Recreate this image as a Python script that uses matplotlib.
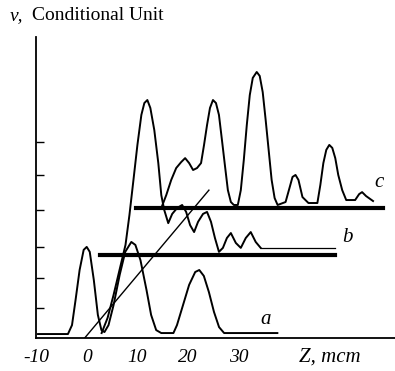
import matplotlib.pyplot as plt

# curve a (bottom), z in mcm, v in conditional units
z_a = [-9.6, -3.7, -2.9, -2.2, -1.4, -0.6, 0.0, 0.6, 1.4, 2.2, 2.9, 3.5, 4.3, 5.3, 6.5, 7.6, 8.8, 9.6,
       10.6, 11.8, 12.7, 13.7, 14.7, 17.1, 17.8, 19.0, 20.2, 21.4, 22.2, 23.1, 24.1, 25.1, 26.1, 27.1, 37.6]
v_a = [0.12, 0.12, 0.39, 1.15, 2.06, 2.67, 2.76, 2.61, 1.76, 0.70, 0.24, 0.18, 0.39, 1.00, 1.91, 2.61, 2.91, 2.82,
       2.36, 1.45, 0.70, 0.24, 0.15, 0.15, 0.39, 1.00, 1.61, 2.00, 2.06, 1.88, 1.39, 0.79, 0.33, 0.15, 0.15]

# curve b
z_b = [2.94, 4.12, 5.29, 6.47, 7.65, 8.43, 9.22, 10.0, 10.78, 11.37, 11.96, 12.55, 13.33, 14.12, 14.71,
       15.29, 16.08, 16.86, 17.84, 18.82, 19.61, 20.39, 21.18, 21.96, 22.94, 23.73, 24.51, 25.29, 26.08, 26.86,
       27.65, 28.43, 29.41, 30.39, 31.37, 32.35, 33.33, 34.31, 49.02]
v_b = [0.15, 0.61, 1.30, 2.06, 2.82, 3.73, 4.79, 5.85, 6.76, 7.12, 7.21, 6.97, 6.30, 5.30, 4.33,
       3.88, 3.48, 3.76, 3.94, 4.03, 3.82, 3.42, 3.21, 3.52, 3.76, 3.82, 3.52, 3.03, 2.61, 2.73,
       3.03, 3.18, 2.88, 2.73, 3.03, 3.21, 2.91, 2.73, 2.73]

# curve c
z_c = [14.71, 15.69, 16.67, 17.65, 18.63, 19.41, 20.20, 20.98, 21.76, 22.55, 23.14, 23.73, 24.31, 24.90, 25.49,
       26.08, 26.67, 27.25, 27.84, 28.43, 29.02, 29.80, 30.39, 30.98, 31.57, 32.16, 32.75, 33.53, 34.12, 34.71,
       35.29, 35.88, 36.47, 37.06, 37.65, 39.22, 40.00, 40.59, 41.18, 41.76, 42.55, 43.73, 45.49, 46.08, 46.67,
       47.25, 47.84, 48.43, 49.02, 49.61, 50.39, 51.18, 52.94, 53.73, 54.31, 55.10, 56.47]
v_c = [3.94, 4.33, 4.79, 5.15, 5.33, 5.45, 5.30, 5.09, 5.15, 5.30, 5.85, 6.45, 6.97, 7.21, 7.12,
       6.76, 6.00, 5.24, 4.48, 4.12, 4.03, 4.03, 4.48, 5.39, 6.45, 7.36, 7.88, 8.06, 7.94, 7.45,
       6.61, 5.70, 4.79, 4.24, 4.03, 4.12, 4.55, 4.88, 4.94, 4.79, 4.27, 4.09, 4.09, 4.64, 5.30,
       5.70, 5.85, 5.76, 5.45, 4.94, 4.48, 4.18, 4.18, 4.36, 4.42, 4.30, 4.15]

# base levels of b and c, and the slanted line
base_b = 2.52
base_b_z = [2.55, 49.0]
base_c = 3.94
base_c_z = [9.8, 58.4]
slant_z = [-0.4, 24.1]
slant_v = [0.0, 4.48]

xtick_vals = [-10, 0, 10, 20, 30]
xtick_labels = ["-10", "0", "10", "20", "30"]
ytick_vals = [0.91, 1.82, 2.76, 3.88, 4.94, 5.94]

plt.rcParams['font.family'] = ['Liberation Serif', 'DejaVu Serif']

fig = plt.figure(figsize=(3.95, 3.71), dpi=100)
ax = fig.add_axes([36 / 395, 33 / 371, 1 - 36 / 395, 301 / 371])

ax.plot(z_a, v_a, color='black', lw=1.4)
ax.plot(z_b[:-1], v_b[:-1], color='black', lw=1.4)
ax.plot(z_b[-2:], v_b[-2:], color='black', lw=0.9)
ax.plot(z_c, v_c, color='black', lw=1.4)
ax.plot(base_b_z, [base_b, base_b], color='black', lw=3)
ax.plot(base_c_z, [base_c, base_c], color='black', lw=3)
ax.plot(slant_z, slant_v, color='black', lw=1.0)

ax.text(35.3, 0.55, "a", fontsize=15, style='italic', ha='center', va='center')
ax.text(51.4, 3.06, "b", fontsize=15, style='italic', ha='center', va='center')
ax.text(57.6, 4.7, "c", fontsize=15, style='italic', ha='center', va='center')

ax.set_xlim(-9.6, 60.8)
ax.set_ylim(0, 9.12)

ax.spines['top'].set_visible(False)
ax.spines['right'].set_visible(False)
ax.spines['left'].set_linewidth(1.3)
ax.spines['bottom'].set_linewidth(1.3)

ax.set_xticks(xtick_vals)
ax.set_xticklabels(xtick_labels, fontsize=14, style='italic')
ax.tick_params(axis='x', which='major', length=0, pad=8)
ax.set_xticks([10, 20, 30], minor=True)
ax.tick_params(axis='x', which='minor', direction='in', length=5, width=1)
ax.set_yticks(ytick_vals)
ax.set_yticklabels([])
ax.tick_params(axis='y', direction='in', length=6, width=1)

fig.text(10 / 395, 1 - 16 / 371, "ν,", fontsize=14, style='italic', va='center')
fig.text(32 / 395, 1 - 16 / 371, "Conditional Unit", fontsize=14, va='center')
fig.text(330 / 395, 1 - 357 / 371, "Z, mcm", fontsize=15, style='italic', ha='center', va='center')

fig.savefig("out.png", dpi=100)
